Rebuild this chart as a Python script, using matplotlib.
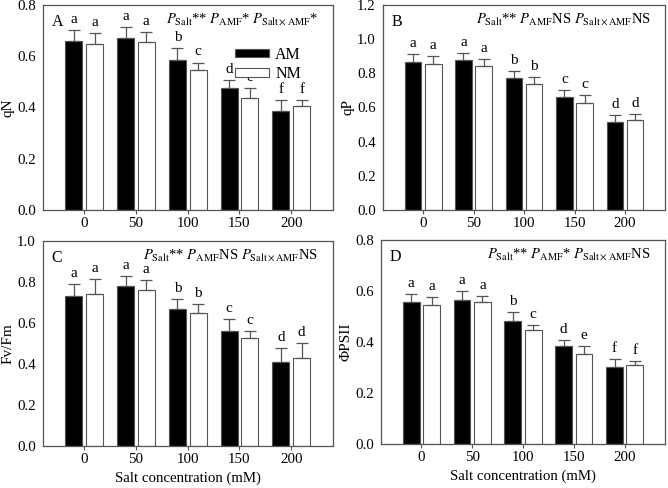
import numpy as np
import matplotlib
matplotlib.use("Agg")
import matplotlib.pyplot as plt

plt.rcParams['font.family'] = ['Liberation Serif', 'DejaVu Serif']
plt.rcParams['mathtext.fontset'] = 'stix'
plt.rcParams['font.size'] = 11

# dados
salt = ['0', '50', '100', '150', '200']

qN_am = [0.660, 0.669, 0.586, 0.476, 0.387]
qN_am_err = [0.042, 0.043, 0.044, 0.032, 0.040]
qN_nm = [0.647, 0.657, 0.545, 0.435, 0.404]
qN_nm_err = [0.043, 0.036, 0.030, 0.042, 0.026]
qN_letras_am = ['a', 'a', 'b', 'd', 'f']
qN_letras_nm = ['a', 'a', 'c', 'e', 'f']

qP_am = [0.868, 0.880, 0.769, 0.663, 0.513]
qP_am_err = [0.045, 0.037, 0.045, 0.039, 0.043]
qP_nm = [0.853, 0.843, 0.734, 0.624, 0.527]
qP_nm_err = [0.048, 0.039, 0.046, 0.049, 0.035]
qP_letras_am = ['a', 'a', 'b', 'c', 'd']
qP_letras_nm = ['a', 'a', 'b', 'c', 'd']

fvfm_am = [0.732, 0.779, 0.670, 0.559, 0.411]
fvfm_am_err = [0.060, 0.050, 0.047, 0.061, 0.067]
fvfm_nm = [0.741, 0.759, 0.649, 0.528, 0.431]
fvfm_nm_err = [0.074, 0.051, 0.044, 0.033, 0.073]
fvfm_letras_am = ['a', 'a', 'b', 'c', 'd']
fvfm_letras_nm = ['a', 'a', 'b', 'c', 'd']

psii_am = [0.558, 0.566, 0.484, 0.384, 0.303]
psii_am_err = [0.032, 0.035, 0.033, 0.024, 0.032]
psii_nm = [0.544, 0.556, 0.446, 0.355, 0.310]
psii_nm_err = [0.034, 0.024, 0.020, 0.030, 0.017]
psii_letras_am = ['a', 'a', 'b', 'd', 'f']
psii_letras_nm = ['a', 'a', 'c', 'e', 'f']

cinza = '#555555'


def Painel(ax, am, am_err, nm, nm_err, let_am, let_nm, ymax, passo,
           ylabel, letra, ptexto, xlabel=False, legenda=False):
    x = np.arange(len(salt))
    w = 0.33
    ax.bar(x - 0.2, am, w, color='black', edgecolor=cinza, linewidth=0.8, label='AM')
    ax.bar(x + 0.2, nm, w, color='white', edgecolor=cinza, linewidth=0.8, label='NM')
    ax.errorbar(x - 0.2, am, yerr=[np.zeros(len(am)), am_err], fmt='none',
                ecolor=cinza, elinewidth=0.9, capsize=4, capthick=0.9)
    ax.errorbar(x + 0.2, nm, yerr=[np.zeros(len(nm)), nm_err], fmt='none',
                ecolor=cinza, elinewidth=0.9, capsize=4, capthick=0.9)
    off = ymax * 0.02
    for i in range(len(salt)):
        ax.text(x[i] - 0.2, am[i] + am_err[i] + off, let_am[i], ha='center', va='bottom', fontsize=11)
        ax.text(x[i] + 0.2, nm[i] + nm_err[i] + off, let_nm[i], ha='center', va='bottom', fontsize=11)
    ax.set_xlim(-0.8, 4.8)
    ax.set_ylim(0, ymax)
    ax.set_yticks(np.arange(0, ymax + 1e-9, passo))
    ax.yaxis.set_major_formatter(matplotlib.ticker.FormatStrFormatter('%.1f'))
    ax.set_xticks(x)
    ax.set_xticklabels(salt)
    ax.tick_params(axis='x', direction='out', length=3, color=cinza, labelsize=10.7, pad=2)
    ax.tick_params(axis='y', direction='in', length=0, labelsize=10.7, pad=5)
    for s in ax.spines.values():
        s.set_color(cinza)
        s.set_linewidth(0.9)
    ax.set_ylabel(ylabel, fontsize=11, labelpad=2)
    if xlabel:
        ax.set_xlabel('Salt concentration (mM)', fontsize=10.7, labelpad=4)
    ax.text(0.03, 0.955, letra, transform=ax.transAxes, ha='left', va='top', fontsize=11.5)
    ax.text(0.95, 0.97, ptexto, transform=ax.transAxes, ha='right', va='top', fontsize=10.5)
    if legenda:
        ax.legend(loc='upper right', bbox_to_anchor=(0.93, 0.85), frameon=False,
                  handlelength=2.1, handleheight=0.45, fontsize=11.5, labelspacing=0.2,
                  handletextpad=0.4, borderpad=0.2)


fig = plt.figure(figsize=(6.68, 4.88), dpi=100)
axA = fig.add_axes([0.064, 0.570, 0.434, 0.420])
axB = fig.add_axes([0.573, 0.570, 0.423, 0.420])
axC = fig.add_axes([0.064, 0.086, 0.434, 0.420])
axD = fig.add_axes([0.570, 0.090, 0.426, 0.418])

Painel(axA, qN_am, qN_am_err, qN_nm, qN_nm_err, qN_letras_am, qN_letras_nm, 0.8, 0.2,
       'qN', 'A', r'$P_{\rm Salt}$** $P_{\rm AMF}$* $P_{\rm Salt\times AMF}$*', legenda=True)
Painel(axB, qP_am, qP_am_err, qP_nm, qP_nm_err, qP_letras_am, qP_letras_nm, 1.2, 0.2,
       'qP', 'B', r'$P_{\rm Salt}$** $P_{\rm AMF}$NS $P_{\rm Salt\times AMF}$NS')
Painel(axC, fvfm_am, fvfm_am_err, fvfm_nm, fvfm_nm_err, fvfm_letras_am, fvfm_letras_nm, 1.0, 0.2,
       'Fv/Fm', 'C', r'$P_{\rm Salt}$** $P_{\rm AMF}$NS $P_{\rm Salt\times AMF}$NS', xlabel=True)
Painel(axD, psii_am, psii_am_err, psii_nm, psii_nm_err, psii_letras_am, psii_letras_nm, 0.8, 0.2,
       'ΦPSII', 'D', r'$P_{\rm Salt}$** $P_{\rm AMF}$* $P_{\rm Salt\times AMF}$NS', xlabel=True)

fig.savefig('out.png', dpi=100)
